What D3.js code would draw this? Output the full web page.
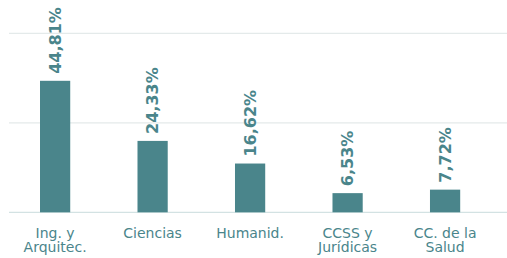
<!DOCTYPE html>
<html>
<head>
<meta charset="utf-8">
<script src="https://cdn.jsdelivr.net/npm/d3@7"></script>
<style>
  html, body { margin: 0; padding: 0; background: #ffffff; }
  svg { display: block; }
</style>
</head>
<body>
<svg id="chart" width="507" height="258"></svg>
<script>
const categories = [["Ing. y", "Arquitec."], ["Ciencias"], ["Humanid."], ["CCSS y", "Jurídicas"], ["CC. de la", "Salud"]];
const values = [44.81, 24.33, 16.62, 6.53, 7.72];
const valueLabels = ["44,81%", "24,33%", "16,62%", "6,53%", "7,72%"];
const gridTicks = [0, 30.5, 61];

const teal = "#4a858b";
const svg = d3.select("#chart");

const x = d3.scaleBand()
  .domain(d3.range(values.length))
  .range([20.5, 479.7])
  .paddingInner(0.69)
  .paddingOuter(0.2);

const y = d3.scaleLinear().domain([0, 61]).range([212.3, 33.3]);

// gridlines
svg.append("g").selectAll("line")
  .data(gridTicks)
  .join("line")
  .attr("x1", 9).attr("x2", 507)
  .attr("y1", d => y(d)).attr("y2", d => y(d))
  .attr("stroke", d => d === 0 ? "#d3e2e3" : "#e4eaea")
  .attr("stroke-width", 1.3);

// bars
svg.append("g").selectAll("rect")
  .data(values)
  .join("rect")
  .attr("x", (d, i) => x(i))
  .attr("width", x.bandwidth())
  .attr("y", d => y(d))
  .attr("height", d => y(0) - y(d))
  .attr("fill", teal);

// value labels
svg.append("g").selectAll("text")
  .data(values)
  .join("text")
  .attr("transform", (d, i) => `translate(${x(i) + x.bandwidth() / 2 + 5.8},${y(d) - 7}) rotate(-90)`)
  .attr("text-anchor", "start")
  .attr("font-family", "DejaVu Sans, sans-serif")
  .attr("font-weight", "bold")
  .attr("font-size", 16)
  .attr("fill", teal)
  .text((d, i) => valueLabels[i]);

// category labels
const cat = svg.append("g").selectAll("text")
  .data(categories)
  .join("text")
  .attr("x", (d, i) => x(i) + x.bandwidth() / 2)
  .attr("y", 237.5)
  .attr("text-anchor", "middle")
  .attr("font-family", "DejaVu Sans, sans-serif")
  .attr("font-size", 14)
  .attr("fill", teal);
cat.selectAll("tspan")
  .data(d => d)
  .join("tspan")
  .attr("x", function () { return d3.select(this.parentNode).attr("x"); })
  .attr("dy", (d, j) => j === 0 ? 0 : 14.8)
  .text(d => d);
</script>
</body>
</html>
